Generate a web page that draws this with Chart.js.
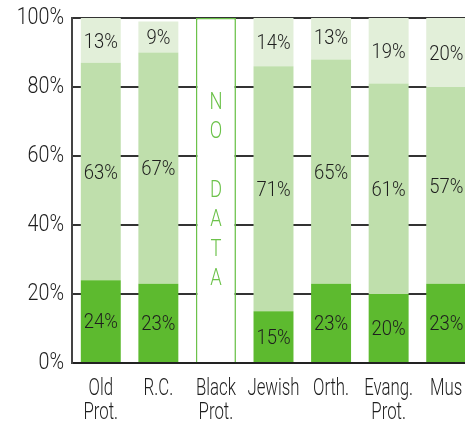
<!DOCTYPE html>
<html>
<head>
<meta charset="utf-8">
<script src="https://cdn.jsdelivr.net/npm/chart.js@4"></script>
<style>
  html, body { margin: 0; padding: 0; background: #fff; overflow: hidden; }
  #wrap { width: 476px; height: 424px; }
</style>
</head>
<body>
<div id="wrap"><canvas id="faithChart"></canvas></div>
<script>
// Groups along the bottom
const groups = [['Old', 'Prot.'], 'R.C.', ['Black', 'Prot.'], 'Jewish', 'Orth.', ['Evang.', 'Prot.'], 'Mus'];

// Shares per group, bottom to top (null = no data)
const lowShare = [24, 23, null, 15, 23, 20, 23];
const midShare = [63, 67, null, 71, 65, 61, 57];
const topShare = [13, 9, null, 14, 13, 19, 20];
const noData = [null, null, 100, null, null, null, null];
const noDataText = ['N', 'O', '', 'D', 'A', 'T', 'A'];

const yTicks = [0, 20, 40, 60, 80, 100];

const font = 'Roboto, "DejaVu Sans", sans-serif';
const ink = '#1e1e1e';

// narrow text: draw with a horizontal squeeze
function narrowText(ctx, text, x, y, sx) {
    ctx.save();
    ctx.translate(x, y);
    ctx.scale(sx, 1);
    ctx.fillText(text, 0, 0);
    ctx.restore();
}

// Axis labels, segment percentages and the vertical "NO DATA" note
const textLayer = {
    id: 'textLayer',
    afterDraw(chart) {
        const ctx = chart.ctx;
        const xs = chart.scales.x;
        const ys = chart.scales.y;
        ctx.save();
        ctx.fillStyle = ink;

        // y tick labels
        ctx.font = '300 24px ' + font;
        ctx.textAlign = 'right';
        ctx.textBaseline = 'middle';
        yTicks.forEach(v => {
            narrowText(ctx, v + '%', 64, ys.getPixelForValue(v), 0.82);
        });

        // category labels
        ctx.textAlign = 'center';
        ctx.textBaseline = 'alphabetic';
        groups.forEach((g, i) => {
            const lines = Array.isArray(g) ? g : [g];
            const x = xs.getPixelForValue(i);
            lines.forEach((ln, k) => {
                narrowText(ctx, ln, x, xs.bottom - 29 + k * 24, 0.7);
            });
        });

        // percentages inside segments
        ctx.font = '300 21px ' + font;
        ctx.textBaseline = 'middle';
        [0, 1, 2].forEach(di => {
            const meta = chart.getDatasetMeta(di);
            meta.data.forEach((bar, i) => {
                const v = chart.data.datasets[di].data[i];
                if (v == null) return;
                narrowText(ctx, v + '%', bar.x, (bar.y + bar.base) / 2 + 2, 0.88);
            });
        });

        // vertical lettering in the empty bar
        ctx.font = '300 23px ' + font;
        ctx.fillStyle = '#6cc24a';
        chart.getDatasetMeta(3).data.forEach((bar, i) => {
            if (noData[i] == null) return;
            noDataText.forEach((ch, k) => {
                narrowText(ctx, ch, bar.x, bar.y + 85 + k * 29.4, 0.8);
            });
        });
        ctx.restore();
    }
};

new Chart(document.getElementById('faithChart'), {
    type: 'bar',
    data: {
        labels: groups,
        datasets: [
            { data: lowShare, backgroundColor: '#5dba2f', stack: 's' },
            { data: midShare, backgroundColor: '#bfdfac', stack: 's' },
            { data: topShare, backgroundColor: '#e2efd9', stack: 's' },
            { data: noData, backgroundColor: '#ffffff', borderColor: '#6cc24a', borderWidth: 1.5, stack: 's' }
        ]
    },
    options: {
        responsive: true,
        maintainAspectRatio: false,
        animation: false,
        datasets: { bar: { barPercentage: 0.694, categoryPercentage: 1 } },
        layout: { padding: { top: 18, right: 1, left: 0, bottom: 0 } },
        plugins: { legend: { display: false }, tooltip: { enabled: false } },
        scales: {
            x: {
                stacked: true,
                grid: { display: false },
                border: { display: true, color: '#222', width: 2 },
                ticks: { display: false },
                afterFit: s => { s.height = 61; }
            },
            y: {
                stacked: true,
                min: 0,
                max: 100,
                afterBuildTicks: s => { s.ticks = yTicks.map(v => ({ value: v })); },
                grid: { color: '#333', lineWidth: 2, drawTicks: false },
                border: { display: true, color: '#444', width: 2 },
                ticks: { display: false },
                afterFit: s => { s.width = 72; }
            }
        }
    },
    plugins: [textLayer]
});
</script>
</body>
</html>
